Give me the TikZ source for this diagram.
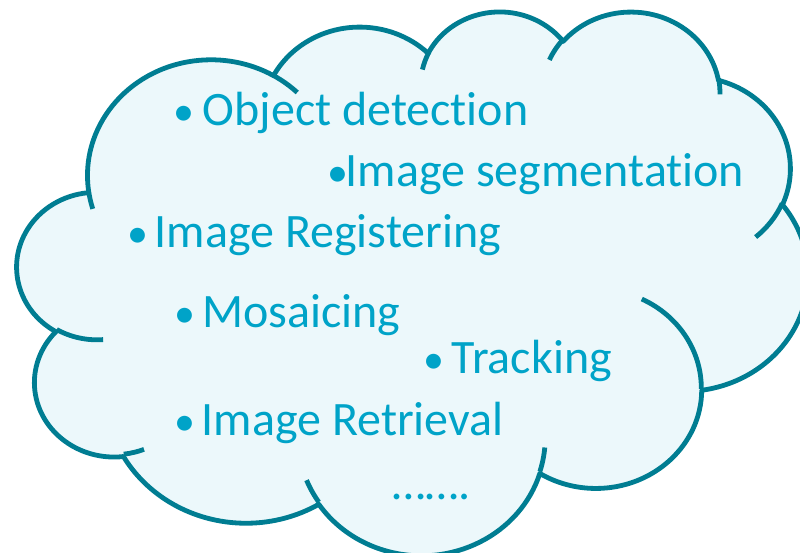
\documentclass[tikz,border=0pt]{standalone}
\usepackage{fontspec}
\setmainfont{Carlito}[Ligatures=CommonOff]
\definecolor{cloudline}{RGB}{0,125,146}
\definecolor{cloudfill}{RGB}{236,248,251}
\definecolor{txtblue}{RGB}{0,163,200}
\newcommand\setang[4]{%
  \pgfmathsetmacro\tmpang{atan2((#2)*sin(#4),(#3)*cos(#4))}%
  \pgfmathsetmacro\tmpang{\tmpang+360*round(((#4)-\tmpang)/360)}%
  \expandafter\let\csname ang#1\endcsname\tmpang}
\newcommand\ang[1]{\csname ang#1\endcsname}
\newcommand\smallbullet{{\fontsize{42}{50}\selectfont •}}
\tikzset{
  cloudedge/.style={draw=cloudline, line width=4.8pt, line join=round},
  itemtext/.style={text=txtblue, font=\fontsize{48}{56}\selectfont, inner sep=0pt, anchor=base west},
  bullettext/.style={text=txtblue, font=\fontsize{42}{50}\selectfont, inner sep=0pt, anchor=base}
}
\begin{document}
\begin{tikzpicture}
\useasboundingbox (0,0) rectangle (800pt,-553pt);
\clip (0,0) rectangle (800pt,-553pt);
% main outline angles
\setang{1s}{67.53}{91.90}{-190.48748}\setang{1e}{67.53}{91.90}{-66.70695}
\setang{2s}{53.33}{72.67}{-144.10238}\setang{2e}{53.33}{72.67}{-54.15715}
\setang{3s}{43.65}{59.45}{-145.80792}\setang{3e}{43.65}{59.45}{-46.08490}
\setang{4s}{48.57}{65.95}{-130.98607}\setang{4e}{48.57}{65.95}{-13.74433}
\setang{5s}{53.33}{72.73}{-78.70888}\setang{5e}{53.33}{72.73}{30.31803}
\setang{6s}{67.75}{92.20}{-46.26725}\setang{6e}{67.75}{92.20}{84.00175}
\setang{7s}{57.85}{78.67}{0.62502}\setang{7e}{57.85}{78.67}{114.65835}
\setang{8s}{67.52}{92.15}{22.45160}\setang{8e}{67.52}{92.15}{137.62415}
\setang{9s}{77.20}{105.43}{66.24263}\setang{9e}{77.20}{105.43}{141.95365}
\setang{10s}{43.60}{59.18}{-274.94208}\setang{10e}{43.60}{59.18}{-128.20652}
\setang{11s}{43.45}{59.45}{-246.82850}\setang{11e}{43.45}{59.45}{-94.30965}
% inner arcs angles
\setang{as}{43.45}{59.45}{86.74200}\setang{ae}{43.45}{59.45}{113.17150}
\setang{bs}{43.60}{59.18}{73.61047}\setang{be}{43.60}{59.18}{85.05793}
\setang{cs}{67.52}{92.15}{137.62415}\setang{ce}{67.52}{92.15}{151.70525}
\setang{ds}{67.52}{92.15}{6.45327}\setang{de}{67.52}{92.15}{22.45162}
\setang{es}{57.85}{78.67}{-70.29235}\setang{ee}{57.85}{78.67}{0.62502}
\setang{fs}{53.33}{72.73}{30.31803}\setang{fe}{53.33}{72.73}{58.06953}
\setang{gs}{48.57}{65.95}{-13.74433}\setang{ge}{48.57}{65.95}{1.11457}
\setang{hs}{48.57}{65.95}{-149.18145}\setang{he}{48.57}{65.95}{-130.98608}
\setang{is}{43.65}{59.45}{-163.49427}\setang{ie}{43.65}{59.45}{-145.80792}
\setang{js}{67.53}{91.90}{-66.70695}\setang{je}{67.53}{91.90}{-54.38760}
\setang{ks}{67.53}{91.90}{157.65435}\setang{ke}{67.53}{91.90}{169.51252}
\begin{scope}[shift={(17.24pt,-10.18pt)}, x=1.83pt, y=-1.2584pt]
\path[fill=cloudfill, cloudedge] (39.00,143.70)
  arc[x radius=67.53, y radius=91.90, start angle=\ang{1s}, end angle=\ang{1e}]
  arc[x radius=53.33, y radius=72.67, start angle=\ang{2s}, end angle=\ang{2e}]
  arc[x radius=43.65, y radius=59.45, start angle=\ang{3s}, end angle=\ang{3e}]
  arc[x radius=48.57, y radius=65.95, start angle=\ang{4s}, end angle=\ang{4e}]
  arc[x radius=53.33, y radius=72.73, start angle=\ang{5s}, end angle=\ang{5e}]
  arc[x radius=67.75, y radius=92.20, start angle=\ang{6s}, end angle=\ang{6e}]
  arc[x radius=57.85, y radius=78.67, start angle=\ang{7s}, end angle=\ang{7e}]
  arc[x radius=67.52, y radius=92.15, start angle=\ang{8s}, end angle=\ang{8e}]
  arc[x radius=77.20, y radius=105.43, start angle=\ang{9s}, end angle=\ang{9e}]
  arc[x radius=43.60, y radius=59.18, start angle=\ang{10s}, end angle=\ang{10e}]
  arc[x radius=43.45, y radius=59.45, start angle=\ang{11s}, end angle=\ang{11e}]
  -- cycle;
\path[cloudedge]
  (46.93,261.77) arc[x radius=43.45, y radius=59.45, start angle=\ang{as}, end angle=\ang{ae}]
  (69.28,348.99) arc[x radius=43.60, y radius=59.18, start angle=\ang{bs}, end angle=\ang{be}]
  (164.78,390.90) arc[x radius=67.52, y radius=92.15, start angle=\ang{cs}, end angle=\ang{ce}]
  (288.27,347.51) arc[x radius=67.52, y radius=92.15, start angle=\ang{ds}, end angle=\ang{de}]
  (341.29,229.54) arc[x radius=57.85, y radius=78.67, start angle=\ang{es}, end angle=\ang{ee}]
  (417.98,153.54) arc[x radius=53.33, y radius=72.73, start angle=\ang{fs}, end angle=\ang{fe}]
  (383.24,54.26) arc[x radius=48.57, y radius=65.95, start angle=\ang{gs}, end angle=\ang{ge}]
  (290.78,39.52) arc[x radius=48.57, y radius=65.95, start angle=\ang{hs}, end angle=\ang{he}]
  (221.41,47.20) arc[x radius=43.65, y radius=59.45, start angle=\ang{is}, end angle=\ang{ie}]
  (140.00,51.92) arc[x radius=67.53, y radius=91.90, start angle=\ang{js}, end angle=\ang{je}]
  (41.27,157.89) arc[x radius=67.53, y radius=91.90, start angle=\ang{ks}, end angle=\ang{ke}];
\end{scope}
\node[bullettext] (b1) at (184pt,-126pt) {•};
\node[itemtext] (t1) at (202.5pt,-126pt) {Object detection};
\node[itemtext] (t2) at (327.7pt,-187pt) {\smallbullet\kern-3pt Image segmentation};
\node[bullettext] (b3) at (138pt,-248pt) {•};
\node[itemtext] (t3) at (154.6pt,-248pt) {Image Registering};
\node[bullettext] (b4) at (184.5pt,-327pt) {•};
\node[itemtext] (t4) at (202pt,-327pt) {Mosaicing};
\node[bullettext] (b5) at (433.5pt,-373pt) {•};
\node[itemtext] (t5) at (451.5pt,-373pt) {Tracking};
\node[bullettext] (b6) at (184.5pt,-435pt) {•};
\node[itemtext] (t6) at (201.6pt,-435pt) {Image Retrieval};
\node[itemtext] (t7) at (392pt,-499pt) {…….};
\end{tikzpicture}
\end{document}
